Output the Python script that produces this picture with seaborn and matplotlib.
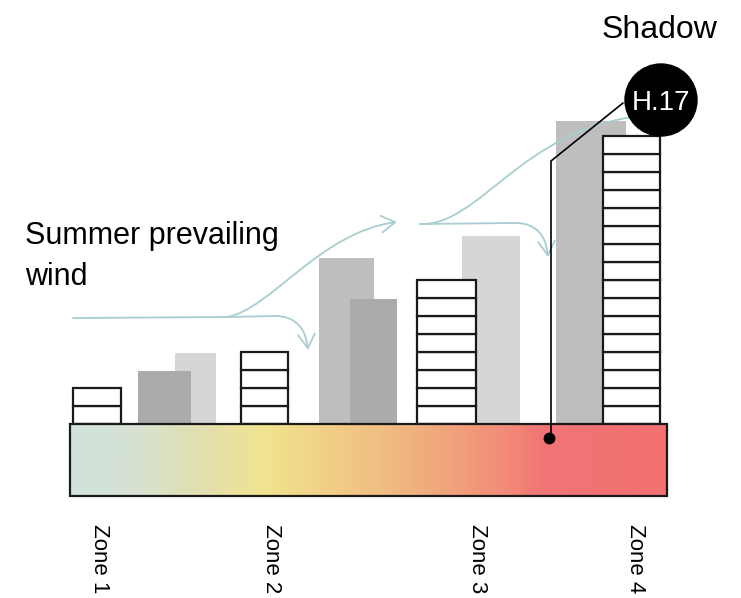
import numpy as np
import matplotlib
matplotlib.use("Agg")
import matplotlib.pyplot as plt
import seaborn as sns
from matplotlib.colors import LinearSegmentedColormap
from matplotlib.patches import FancyArrowPatch, Ellipse, Rectangle
from matplotlib.path import Path

# ---------------- data ----------------
zones = ["Zone 1", "Zone 2", "Zone 3", "Zone 4"]
floors = [2, 4, 8, 16]                              # floors of the studied block per zone
floor_h = 3.0                                       # m per floor
shadow_h = [8.8, 11.9, 27.6, 20.8, 31.3, 50.5]      # neighbouring blocks casting shadow, m
shadow_tone = ["dark", "light", "mid", "dark", "light", "mid"]
tag = "H.17"

# ---------------- layout (x in px, y in m) ----------------
block_x = [(73, 121), (241, 288), (417, 476), (603, 660)]
shadow_x = [(138, 191), (175, 216), (319, 374), (350, 397), (462, 520), (556, 626)]
zone_x = [100, 272, 478, 636]
tones = {"dark": "#ababab", "mid": "#bebebe", "light": "#d6d6d6"}
tone_z = {"dark": 2, "mid": 1, "light": 1}
wind_c = "#a9cdd1"


def py(y_px):
    # pixel row -> metres above ground (ground top at row 424, 6 px per metre)
    return (424 - y_px) / 6.0


sns.set_theme(style="white")
plt.rcParams["font.family"] = ["Liberation Sans", "DejaVu Sans"]
plt.rcParams["text.color"] = "black"

fig = plt.figure(figsize=(7.41, 5.98), dpi=100)
ax = fig.add_axes([0, 0, 1, 1])
ax.set_xlim(0, 741)
ax.set_ylim(py(598), py(0))
ax.axis("off")

# shadow blocks
for (x0, x1), h, t in zip(shadow_x, shadow_h, shadow_tone):
    ax.bar(x0, h, width=x1 - x0, align="edge", color=tones[t], linewidth=0, zorder=tone_z[t])

# studied blocks, drawn floor by floor
for (x0, x1), n in zip(block_x, floors):
    ax.bar([x0] * n, [floor_h] * n, width=x1 - x0, bottom=np.arange(n) * floor_h,
           align="edge", facecolor="white", edgecolor="#1a1a1a", linewidth=1.6, zorder=3)

# ground strip with gradient
grad = LinearSegmentedColormap.from_list("ground", [
    (0.0, "#d0e2dc"), (0.10, "#d6e2d3"), (0.22, "#e3e0b0"), (0.33, "#f1e38e"),
    (0.385, "#f2d88a"), (0.55, "#f0b880"), (0.72, "#f28e78"), (0.795, "#f27575"),
    (1.0, "#f27070")])
g0, g1, gb = 70, 667, py(495.5)
ax.imshow(np.linspace(0, 1, 300)[None, :], cmap=grad, aspect="auto",
          extent=[g0, g1, gb, 0], zorder=4)
ax.add_patch(Rectangle((g0, gb), g1 - g0, -gb, fill=False, edgecolor="#1a1a1a",
                       linewidth=1.6, zorder=5))


# wind
def wind(pts, codes, style="->,head_length=1.0,head_width=0.6"):
    verts = [(x, py(y)) for x, y in pts]
    p = FancyArrowPatch(path=Path(verts, codes), arrowstyle=style,
                        mutation_scale=10, color=wind_c, linewidth=1.3, zorder=6)
    ax.add_patch(p)


M, L, C = Path.MOVETO, Path.LINETO, Path.CURVE4
wind([(73, 318), (227, 317), (270, 310), (320, 232), (397, 222)], [M, L, C, C, C])
wind([(227, 317), (275, 316), (297, 316), (306, 330), (308, 350)], [M, L, C, C, C])
wind([(420, 224), (480, 226), (520, 130), (640, 116)], [M, C, C, C], style="-")
wind([(420, 224), (515, 223), (537, 223), (546, 236), (548, 257)], [M, L, C, C, C])

# shadow leader + tag
ax.plot([623, 551, 551], [py(103), py(161), py(438)], color="black", linewidth=1.2, zorder=7)
ax.plot([549], [py(438)], "o", color="black", markersize=7.5, zorder=7)
ax.add_patch(Ellipse((661, py(100)), 72, 72 / 6.0, color="black", zorder=10))
ax.text(661, py(100), tag, color="white", fontsize=20, ha="center", va="center_baseline",
        zorder=11)

ax.text(659, py(38), "Shadow", fontsize=23, ha="center", va="baseline")
ax.text(25, py(285), "Summer prevailing\nwind", fontsize=22, ha="left", va="baseline",
        linespacing=1.49)

for x, z in zip(zone_x, zones):
    ax.text(x, py(524), z, fontsize=16, rotation=270, ha="center", va="top")

fig.savefig("out.png", dpi=100)
